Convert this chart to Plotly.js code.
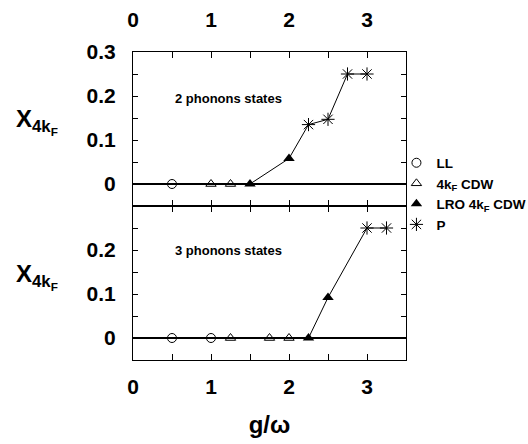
<!DOCTYPE html>
<html><head><meta charset="utf-8">
<script src="https://cdn.plot.ly/plotly-3.0.1.min.js"></script>
<style>html,body{margin:0;padding:0;background:#fff}</style>
</head><body>
<div id="chart" style="width:528px;height:444px"></div>
<script>
// ---- data: 2 phonons states (top panel)
const top_LL_x = [0.5];            const top_LL_y = [0];
const top_CDW_x = [1, 1.25];       const top_CDW_y = [0, 0];
const top_LRO_x = [1.5, 2];        const top_LRO_y = [0, 0.058];
const top_P_x = [2.25, 2.5, 2.75, 3]; const top_P_y = [0.135, 0.147, 0.25, 0.25];
// ---- data: 3 phonons states (bottom panel)
const bot_LL_x = [0.5, 1];         const bot_LL_y = [0, 0];
const bot_CDW_x = [1.25, 1.75, 2]; const bot_CDW_y = [0, 0, 0];
const bot_LRO_x = [2.25, 2.5];     const bot_LRO_y = [0, 0.092];
const bot_P_x = [3, 3.25];         const bot_P_y = [0.25, 0.25];
// ---- tick labels
const xTickVals = [0, 1, 2, 3];
const xTickText = ['0', '1', '2', '3'];
const yTopVals = [0, 0.1, 0.2, 0.3];
const yTopText = ['0', '0.1', '0.2', '0.3'];
const yBotVals = [0, 0.1, 0.2];
const yBotText = ['0', '0.1', '0.2'];
const names = ['LL', '4k<sub>F</sub> CDW', 'LRO 4k<sub>F</sub> CDW', 'P'];

const FONT = 'Liberation Sans, Arial, Helvetica, sans-serif';
const K = 'black';
const sym = {
  LL: {symbol: 'circle-open', size: 9, color: K, line: {width: 1, color: K}},
  CDW: {symbol: 'triangle-up-open', size: 9, color: K, line: {width: 1, color: K}},
  LRO: {symbol: 'triangle-up', size: 10, color: K, line: {width: 0, color: K}},
  P: {symbol: 'asterisk-open', size: 11, color: K, line: {width: 1, color: K}}
};

function lineTrace(xs, ys, xa, ya) {
  return {x: xs, y: ys, xaxis: xa, yaxis: ya, mode: 'lines', line: {color: K, width: 1},
          showlegend: false, hoverinfo: 'skip'};
}
function mk(xs, ys, xa, ya, key, name, show) {
  return {x: xs, y: ys, xaxis: xa, yaxis: ya, mode: 'markers', marker: sym[key],
          name: name, legendgroup: key, showlegend: show, cliponaxis: false};
}

const data = [
  lineTrace(top_LRO_x.concat(top_P_x), top_LRO_y.concat(top_P_y), 'x2', 'y2'),
  lineTrace(bot_LRO_x.concat(bot_P_x), bot_LRO_y.concat(bot_P_y), 'x', 'y'),
  mk(top_LL_x, top_LL_y, 'x2', 'y2', 'LL', names[0], true),
  mk(top_CDW_x, top_CDW_y, 'x2', 'y2', 'CDW', names[1], true),
  mk(top_LRO_x, top_LRO_y, 'x2', 'y2', 'LRO', names[2], true),
  mk(top_P_x, top_P_y, 'x2', 'y2', 'P', names[3], true),
  mk(bot_LL_x, bot_LL_y, 'x', 'y', 'LL', names[0], false),
  mk(bot_CDW_x, bot_CDW_y, 'x', 'y', 'CDW', names[1], false),
  mk(bot_LRO_x, bot_LRO_y, 'x', 'y', 'LRO', names[2], false),
  mk(bot_P_x, bot_P_y, 'x', 'y', 'P', names[3], false)
];

const tickFont = {family: FONT, size: 21, weight: 'bold', color: K};
const xCommon = {range: [0, 3.5], tickmode: 'array', tickvals: xTickVals, ticktext: xTickText,
  ticks: 'inside', ticklen: 6, tickcolor: K, tickwidth: 1,
  minor: {dtick: 0.5, tick0: 0, ticks: 'inside', ticklen: 6, tickcolor: K, tickwidth: 1},
  showline: true, linecolor: K, linewidth: 1,
  mirror: 'ticks', showgrid: false, zeroline: false, tickfont: tickFont};
const yCommon = {range: [-0.05, 0.3], tickmode: 'array',
  ticks: 'inside', ticklen: 5, tickcolor: K, tickwidth: 1,
  minor: {dtick: 0.05, tick0: 0, ticks: 'inside', ticklen: 5, tickcolor: K, tickwidth: 1},
  showline: true, linecolor: K, linewidth: 1,
  mirror: 'ticks', showgrid: false, zeroline: true, zerolinecolor: K, zerolinewidth: 1.6,
  tickfont: tickFont, ticklabelstandoff: 12};

const layout = {
  width: 528, height: 444,
  margin: {l: 133, r: 122, t: 52, b: 84, autoexpand: false},
  paper_bgcolor: 'white', plot_bgcolor: 'white',
  font: {family: FONT, color: K},
  xaxis: Object.assign({}, xCommon, {anchor: 'y', domain: [0, 1], ticklabelstandoff: 8,
    title: {text: 'g/ω', font: {family: FONT, size: 24, weight: 'bold', color: K}, standoff: 18}}),
  xaxis2: Object.assign({}, xCommon, {anchor: 'y2', matches: 'x', side: 'top', domain: [0, 1], ticklabelstandoff: 16}),
  yaxis: Object.assign({}, yCommon, {domain: [0, 0.5], anchor: 'x', tickvals: yBotVals, ticktext: yBotText}),
  yaxis2: Object.assign({}, yCommon, {domain: [0.5, 1], anchor: 'x2', tickvals: yTopVals, ticktext: yTopText}),
  showlegend: true,
  legend: {x: 0.965, xanchor: 'left', y: 0.69, yanchor: 'top', bgcolor: 'rgba(0,0,0,0)',
    font: {family: FONT, size: 13.5, weight: 'bold', color: K}, itemwidth: 30, tracegroupgap: 0},
  annotations: [
    {xref: 'x2', yref: 'y2', x: 1.224, y: 0.195, xanchor: 'center', yanchor: 'middle', showarrow: false,
     text: '2 phonons states', font: {family: FONT, size: 13, weight: 'bold', color: K}},
    {xref: 'x', yref: 'y', x: 1.224, y: 0.198, xanchor: 'center', yanchor: 'middle', showarrow: false,
     text: '3 phonons states', font: {family: FONT, size: 13, weight: 'bold', color: K}},
    {xref: 'paper', yref: 'paper', x: -0.435, y: 0.775, xanchor: 'left', yanchor: 'middle', showarrow: false,
     text: 'X<sub>4k<sub>F</sub></sub>', font: {family: FONT, size: 24, weight: 'bold', color: K}},
    {xref: 'paper', yref: 'paper', x: -0.435, y: 0.27, xanchor: 'left', yanchor: 'middle', showarrow: false,
     text: 'X<sub>4k<sub>F</sub></sub>', font: {family: FONT, size: 24, weight: 'bold', color: K}}
  ]
};

Plotly.newPlot('chart', data, layout, {staticPlot: true, displayModeBar: false});
</script>
</body></html>
